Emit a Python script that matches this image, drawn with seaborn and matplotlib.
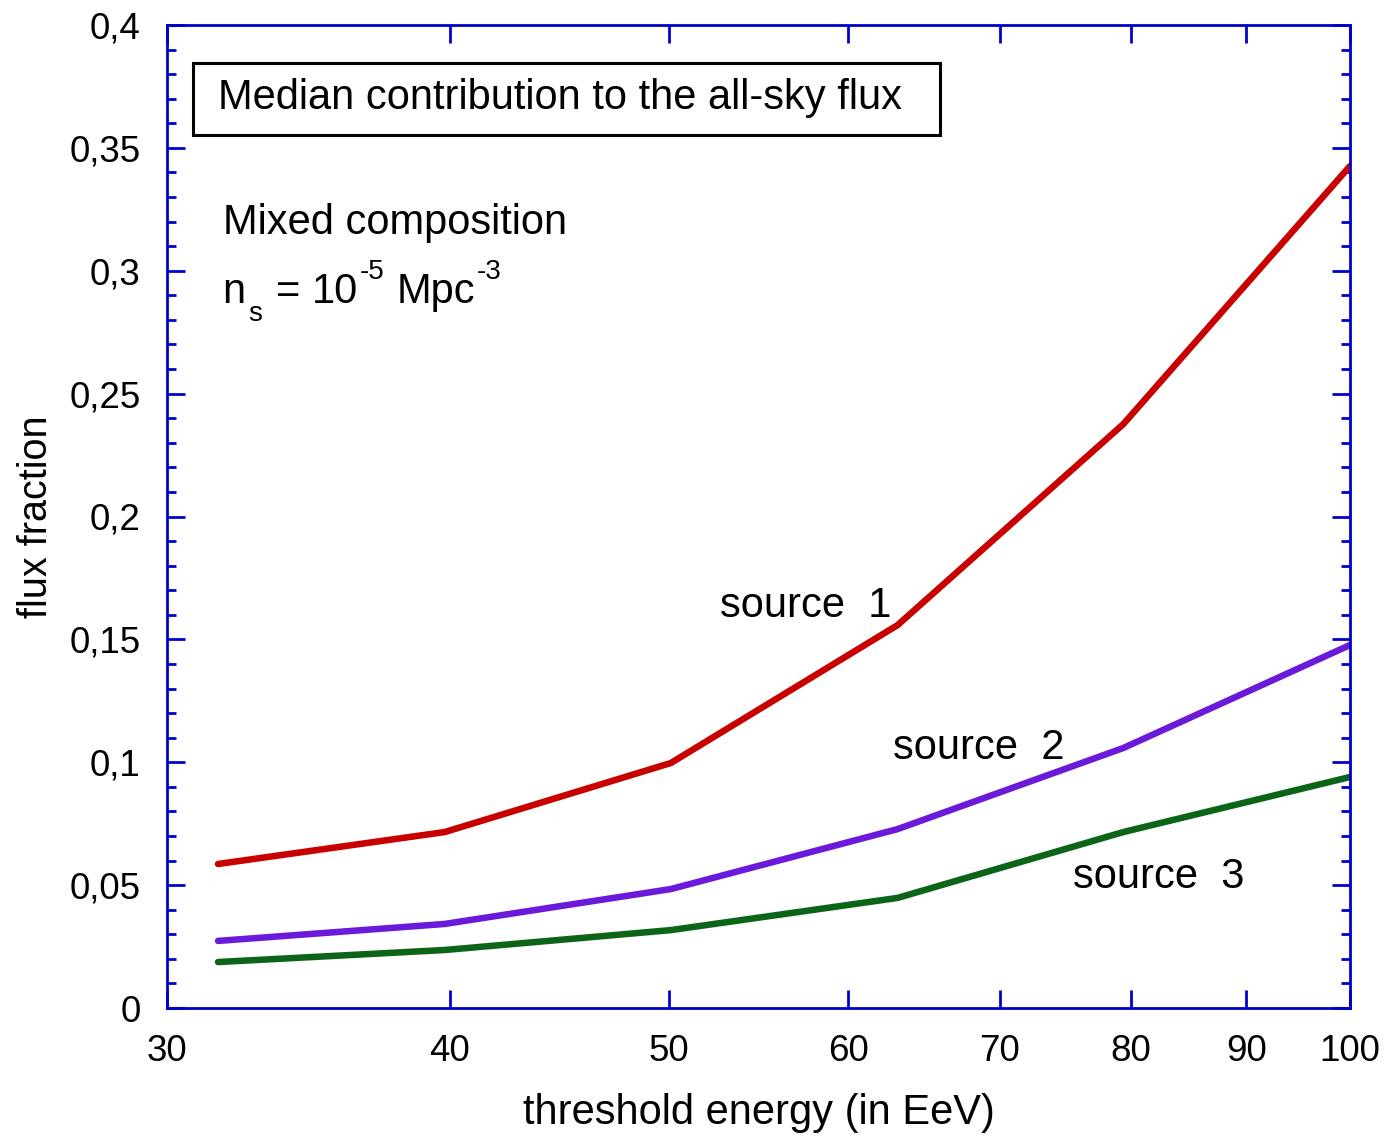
import matplotlib
matplotlib.use("Agg")
import matplotlib.pyplot as plt
import seaborn as sns
import pandas as pd
from matplotlib.ticker import FixedLocator, NullLocator, MultipleLocator
from matplotlib.patches import Rectangle

sns.set_theme(style="white")
plt.rcParams['font.family'] = ['Liberation Sans', 'DejaVu Sans']
plt.rcParams['text.color'] = 'black'
plt.rcParams['axes.labelcolor'] = 'black'
plt.rcParams['xtick.color'] = 'black'
plt.rcParams['ytick.color'] = 'black'

energy = [31.6, 39.8, 50.1, 63.1, 79.4, 100.0]
source1 = [0.0586, 0.0716, 0.0997, 0.1558, 0.2376, 0.3426]
source2 = [0.0273, 0.0342, 0.0484, 0.0728, 0.1058, 0.1477]
source3 = [0.0187, 0.0236, 0.0317, 0.0448, 0.0716, 0.0940]
series_names = ["source  1", "source  2", "source  3"]
colors = ["#C80000", "#6A1AD8", "#0B6418"]
xticks = [30, 40, 50, 60, 70, 80, 90, 100]
yticks = [0, 0.05, 0.1, 0.15, 0.2, 0.25, 0.3, 0.35, 0.4]
ytick_labels = ["0", "0,05", "0,1", "0,15", "0,2", "0,25", "0,3", "0,35", "0,4"]

df = pd.concat([
    pd.DataFrame({"energy": energy, "frac": vals, "series": name})
    for name, vals in zip(series_names, [source1, source2, source3])
])

fig = plt.figure(figsize=(13.86, 11.38), dpi=100)
ax = fig.add_axes([167/1386, 1 - 1008/1138, (1350-167)/1386, (1008-25)/1138])

sns.lineplot(data=df, x="energy", y="frac", hue="series", palette=colors,
             linewidth=4.7, ax=ax, legend=False, sort=True)

ax.set_xscale("log")
ax.set_xlim(30, 100)
ax.set_ylim(0, 0.4)
ax.xaxis.set_major_locator(FixedLocator(xticks))
ax.xaxis.set_minor_locator(NullLocator())
ax.set_xticklabels([str(t) for t in xticks])
ax.set_yticks(yticks)
ax.set_yticklabels(ytick_labels)
ax.yaxis.set_minor_locator(MultipleLocator(0.01))

blue = "#0000CC"
for s in ax.spines.values():
    s.set_color(blue)
    s.set_linewidth(2)
ax.tick_params(which="both", direction="in", color=blue, top=True, right=True,
               left=True, bottom=True, labelsize=26.5, width=2, labelcolor="black")
ax.tick_params(which="major", length=13)
ax.tick_params(which="minor", length=6.5)
ax.tick_params(axis="x", which="major", pad=19)
ax.tick_params(axis="y", which="major", pad=19)

ax.set_xlabel("threshold energy (in EeV)", fontsize=30, labelpad=17)
ax.set_ylabel("flux fraction", fontsize=28.5, labelpad=10)

# title box
ax.add_patch(Rectangle((0.022, 0.888), 0.6314, 0.0733, transform=ax.transAxes,
                       fill=False, ec="black", lw=2.2, zorder=5))
ax.text(0.0431, 0.926, "Median contribution to the all-sky flux", transform=ax.transAxes,
        fontsize=30, va="center", ha="left", zorder=6)
ax.text(0.047, 0.799, "Mixed composition", transform=ax.transAxes, fontsize=30,
        va="center", ha="left")

# n_s = 10^-5 Mpc^-3 built from pieces
fig.canvas.draw()
renderer = fig.canvas.get_renderer()
pieces = [("n", 30, 0, 0), ("s", 20, 2, -22), ("=", 30, 14, 0), ("10", 30, 12, 0),
          ("-5", 20, 2, 20), ("Mpc", 30, 12, 0), ("-3", 20, 1, 20)]
x_disp, y_disp = ax.transAxes.transform((0.047, 0.728))
cur = x_disp
for txt, fs, gap, dy in pieces:
    cur += gap
    t = fig.text(cur / fig.bbox.width, (y_disp + dy) / fig.bbox.height, txt,
                 fontsize=fs, va="center", ha="left")
    bb = t.get_window_extent(renderer=renderer)
    cur = bb.x1

label_pos = [(0.540, 0.409), (0.686, 0.2645), (0.8386, 0.133)]
for name, (x, y) in zip(series_names, label_pos):
    ax.text(x, y, name, transform=ax.transAxes, fontsize=30, ha="center", va="center")

fig.savefig("out.png", dpi=100)
